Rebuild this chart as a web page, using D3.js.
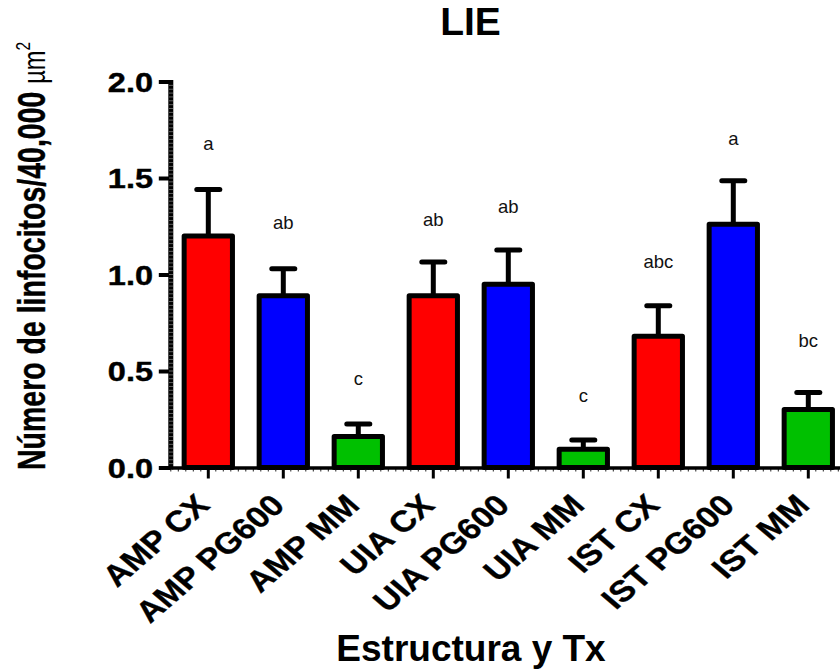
<!DOCTYPE html>
<html>
<head>
<meta charset="utf-8">
<script src="https://cdn.jsdelivr.net/npm/d3@7"></script>
<style>
  html, body { margin: 0; padding: 0; background: #fff; }
  svg { display: block; font-family: "Liberation Sans", Arial, sans-serif; }
</style>
</head>
<body>
<svg id="chart" width="840" height="671"></svg>
<script>
const categories = ["AMP CX", "AMP PG600", "AMP MM", "UIA CX", "UIA PG600", "UIA MM", "IST CX", "IST PG600", "IST MM"];
const means      = [1.20, 0.89, 0.16, 0.89, 0.95, 0.095, 0.68, 1.26, 0.30];
const errUpper   = [1.44, 1.03, 0.225, 1.065, 1.127, 0.142, 0.838, 1.486, 0.388];
const barColors  = ["#FF0000", "#0000FF", "#00C000", "#FF0000", "#0000FF", "#00C000", "#FF0000", "#0000FF", "#00C000"];
const letters    = ["a", "ab", "c", "ab", "ab", "c", "abc", "a", "bc"];
const letterPos  = [1.645, 1.234, 0.427, 1.251, 1.320, 0.341, 1.032, 1.671, 0.623];
const yTicks     = [0, 0.5, 1.0, 1.5, 2.0];

const svg = d3.select("#chart");

const x = d3.scaleBand().domain(categories).range([170.8, 845.8]).paddingInner(0.356).paddingOuter(0.178);
const y = d3.scaleLinear().domain([0, 2]).range([467.5, 81.5]);
const bw = x.bandwidth();
const cx = d => x(d) + bw / 2;

const data = categories.map((c, i) => ({ c, m: means[i], e: errUpper[i], col: barColors[i], l: letters[i], lp: letterPos[i] }));

const g = svg.append("g");

// Error bars
g.selectAll("line.stem").data(data).join("line")
  .attr("x1", d => cx(d.c)).attr("x2", d => cx(d.c))
  .attr("y1", d => y(d.m)).attr("y2", d => y(d.e))
  .attr("stroke", "#000").attr("stroke-width", 5);
g.selectAll("line.cap").data(data).join("line")
  .attr("x1", d => cx(d.c) - 11.5).attr("x2", d => cx(d.c) + 11.5)
  .attr("y1", d => y(d.e)).attr("y2", d => y(d.e))
  .attr("stroke", "#000").attr("stroke-width", 5).attr("stroke-linecap", "round");

// Bars
g.selectAll("rect.bar").data(data).join("rect")
  .attr("x", d => x(d.c)).attr("width", bw)
  .attr("y", d => y(d.m)).attr("height", d => y(0) - y(d.m))
  .attr("fill", d => d.col).attr("stroke", "#000").attr("stroke-width", 5)
  .attr("stroke-linejoin", "round");

// Significance letters
g.selectAll("text.let").data(data).join("text")
  .attr("x", d => cx(d.c)).attr("y", d => y(d.lp))
  .attr("text-anchor", "middle").attr("font-size", 18.5).attr("fill", "#111")
  .text(d => d.l);

// X axis minor ticks
const minor = svg.append("g");
const step = x.step();
const x0 = x.range()[0];
for (let k = 0; x0 + k * step / 10 <= 840; k++) {
  const xx = x0 + k * step / 10;
  minor.append("line").attr("x1", xx).attr("x2", xx).attr("y1", y(0)).attr("y2", y(0) + 4)
    .attr("stroke", "#222").attr("stroke-width", 1);
}

// X axis
const xAxis = svg.append("g").attr("transform", `translate(0,${y(0)})`)
  .call(d3.axisBottom(x).tickSize(11).tickSizeOuter(0));
xAxis.select(".domain").attr("stroke", "#000").attr("stroke-width", 3.5);
xAxis.selectAll(".tick line").attr("stroke", "#000").attr("stroke-width", 3);
xAxis.selectAll(".tick text").remove();

// X tick labels
svg.append("g").selectAll("text").data(categories).join("text")
  .attr("transform", d => `translate(${cx(d) + 3},507) scale(1,0.86) rotate(-45)`)
  .attr("text-anchor", "end").attr("font-size", 34.5).attr("font-weight", "bold").attr("fill", "#000")
  .attr("stroke", "#000").attr("stroke-width", 0.4)
  .text(d => d);

// Y axis
const yAxis = svg.append("g").attr("transform", "translate(170.8,0)")
  .call(d3.axisLeft(y).tickValues(yTicks).tickSize(12).tickSizeOuter(0));
yAxis.select(".domain").attr("stroke", "#000").attr("stroke-width", 5)
  .attr("d", `M0,${y(2) - 1.5}V${y(0) + 2}`);
yAxis.selectAll(".tick line").attr("stroke", "#000").attr("stroke-width", 4);
yAxis.selectAll(".tick text").remove();

// Y minor ticks (light notches across the axis line)
const yMinor = d3.range(0.02, 2.0, 0.02);
svg.append("g").selectAll("line").data(yMinor).join("line")
  .attr("x1", 169).attr("x2", 173).attr("y1", d => y(d)).attr("y2", d => y(d))
  .attr("stroke", "#777").attr("stroke-width", 0.8);

// Y tick labels
svg.append("g").selectAll("text").data(yTicks).join("text")
  .attr("transform", d => `translate(153,${y(d) + 10}) scale(1,0.86)`)
  .attr("text-anchor", "end").attr("font-size", 32.5).attr("font-weight", "bold").attr("fill", "#000")
  .attr("stroke", "#000").attr("stroke-width", 0.5)
  .text(d => d3.format(".1f")(d));

// Title
svg.append("text").attr("x", 470.5).attr("y", 35).attr("text-anchor", "middle")
  .attr("font-size", 39).attr("font-weight", "bold").attr("fill", "#000").text("LIE");

// X axis title
svg.append("text").attr("x", 471).attr("y", 661).attr("text-anchor", "middle")
  .attr("font-size", 37).attr("font-weight", "bold").attr("fill", "#000").text("Estructura y Tx");

// Y axis title
const yt = svg.append("text").attr("transform", "translate(45,470) scale(1,0.74) rotate(-90)")
  .attr("text-anchor", "start").attr("fill", "#000");
yt.append("tspan").attr("font-size", 38.5).attr("font-weight", "bold")
  .attr("stroke", "#000").attr("stroke-width", 0.4).text("Número de linfocitos/40,000 ");
yt.append("tspan").attr("font-size", 32).text("µm");
yt.append("tspan").attr("font-size", 21).attr("dy", -15).text("2");
</script>
</body>
</html>
